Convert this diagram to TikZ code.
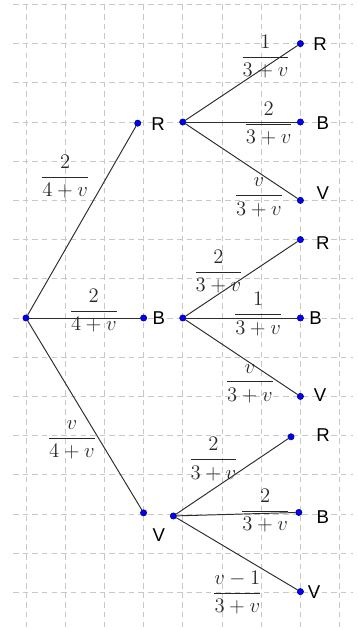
\RequirePackage{fix-cm}
\documentclass[tikz,border=0pt]{standalone}
\usepackage{amsmath}
\usepackage{fontspec}
\setsansfont{Liberation Sans}
\usetikzlibrary{positioning}
\definecolor{dotblue}{RGB}{0,0,255}
\definecolor{dotedge}{RGB}{0,0,120}
\definecolor{gridgray}{RGB}{200,200,200}
\definecolor{linegray}{RGB}{45,45,45}
\definecolor{fracgray}{RGB}{40,40,40}

\begin{document}
\begin{tikzpicture}[
  dot/.style={circle, draw=dotedge, fill=dotblue, inner sep=0pt, minimum size=0.16cm},
  br/.style={draw=linegray, line width=0.7pt},
  prob/.style={text=fracgray, inner sep=0pt, font=\fontsize{15}{18}\selectfont},
  res/.style={font=\sffamily\fontsize{13.5}{16}\selectfont, inner sep=0pt},
  gl/.style={gridgray, dash pattern=on 4pt off 3pt, line width=0.5pt},
]
  \useasboundingbox (-0.663,-7.959) rectangle (8.47,8.112);

  % grid
  \foreach \x in {0,...,8} \draw[gl] (\x,8) -- (\x,-7.959);
  \foreach \y in {-7,...,8} \draw[gl] (-0.33,\y) -- (8.35,\y);

  % first draw
  \node[dot] (o) at (0,0)        {};
  \node[dot] (r) at (2.85,4.97)  {};
  \node[dot] (b) at (3,0)        {};
  \node[dot] (v) at (3,-4.97)    {};

  % second draw
  \node[dot] (a)  at (4,5)        {};
  \node[dot] (ra) at (7,7)        {};
  \node[dot] (ba) at (7,5)        {};
  \node[dot] (va) at (7,3)        {};

  \node[dot] (m)  at (4,0)        {};
  \node[dot] (rb) at (7,2)        {};
  \node[dot] (bb) at (7,0)        {};
  \node[dot] (vb) at (7,-2)       {};

  \node[dot] (c)  at (3.76,-5.05) {};
  \node[dot] (rc) at (6.76,-3.03) {};
  \node[dot] (bc) at (6.96,-4.96) {};
  \node[dot] (vc) at (7,-6.98)    {};

  \draw[br] (o) -- (r);
  \draw[br] (o) -- (b);
  \draw[br] (o) -- (v);
  \draw[br] (a) -- (ra);
  \draw[br] (a) -- (ba);
  \draw[br] (a) -- (va);
  \draw[br] (m) -- (rb);
  \draw[br] (m) -- (bb);
  \draw[br] (m) -- (vb);
  \draw[br] (c) -- (rc);
  \draw[br] (c) -- (bc);
  \draw[br] (c) -- (vc);

  % letters
  \node[res] (lr)  at (3.37,4.95)  {R};
  \node[res] (lb)  at (3.39,0)     {B};
  \node[res] (lv)  at (3.39,-5.54) {V};
  \node[res] (lra) at (7.5,6.99)   {R};
  \node[res] (lba) at (7.57,4.97)  {B};
  \node[res] (lva) at (7.57,3.19)  {V};
  \node[res] (lrb) at (7.57,1.91)  {R};
  \node[res] (lbb) at (7.39,0)     {B};
  \node[res] (lvb) at (7.5,-1.96)  {V};
  \node[res] (lrc) at (7.58,-2.98) {R};
  \node[res] (lbc) at (7.57,-5.07) {B};
  \node[res] (lvc) at (7.35,-6.98) {V};

  % probabilities
  \node[prob] (pr)  at (1.0,3.6)    {$\dfrac{2}{4+v}$};
  \node[prob] (pb)  at (1.73,0.19)  {$\dfrac{2}{4+v}$};
  \node[prob] (pv)  at (1.17,-3.11) {$\dfrac{v}{4+v}$};
  \node[prob] (pra) at (6.11,6.67)  {$\dfrac{1}{3+v}$};
  \node[prob] (pba) at (6.19,4.95)  {$\dfrac{2}{3+v}$};
  \node[prob] (pva) at (5.94,3.08)  {$\dfrac{v}{3+v}$};
  \node[prob] (prb) at (4.91,1.18)  {$\dfrac{2}{3+v}$};
  \node[prob] (pbb) at (5.92,0.10)  {$\dfrac{1}{3+v}$};
  \node[prob] (pvb) at (5.71,-1.67) {$\dfrac{v}{3+v}$};
  \node[prob] (prc) at (4.78,-3.6)  {$\dfrac{2}{3+v}$};
  \node[prob] (pbc) at (6.1,-4.91)  {$\dfrac{2}{3+v}$};
  \node[prob] (pvc) at (5.39,-7.0)  {$\dfrac{v-1}{3+v}$};
\end{tikzpicture}
\end{document}
